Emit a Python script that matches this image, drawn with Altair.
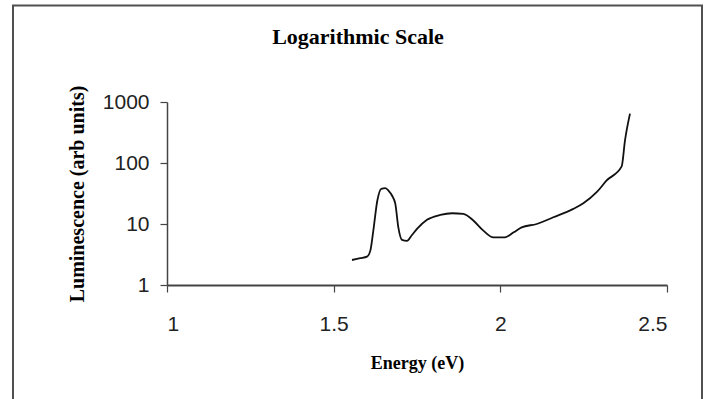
import altair as alt
import pandas as pd

# Data
energy = [1.555, 1.580, 1.600, 1.610, 1.619, 1.631, 1.643, 1.655, 1.665, 1.675,
          1.685, 1.694, 1.705, 1.720, 1.735, 1.750, 1.780, 1.820, 1.855, 1.889,
          1.919, 1.949, 1.979, 2.014, 2.040, 2.064, 2.109, 2.159, 2.219, 2.249,
          2.289, 2.319, 2.364, 2.374, 2.389]
lum = [2.57, 2.75, 2.92, 3.66, 7.8, 24.3, 37.8, 38.6, 35.0, 29.3,
       21.4, 8.8, 5.5, 5.3, 6.6, 8.3, 11.7, 14.1, 15.0, 14.7,
       11.4, 7.8, 6.05, 6.05, 7.3, 8.8, 10.0, 12.9, 17.7, 21.9,
       33.2, 51.7, 87.8, 235, 645]

x_ticks = [1, 1.5, 2, 2.5]
y_ticks = [1, 10, 100, 1000]
y_title = ["Luminescence (arb units)"]
main_title = ["Logarithmic Scale"]

df = pd.DataFrame({"Energy": energy, "Lum": lum})

serif = "Liberation Serif"
sans = "Liberation Sans"

line = alt.Chart(df).mark_line(color="#111111", strokeWidth=1.8, interpolate="monotone").encode(
    x=alt.X("Energy:Q",
            scale=alt.Scale(domain=[1, 2.5], nice=False, zero=False),
            axis=alt.Axis(values=x_ticks, format="~g", title="Energy (eV)",
                          grid=False, tickSize=7, labelPadding=21, titlePadding=20,
                          labelFont=sans, labelFontSize=21, labelColor="#222222",
                          titleFont=serif, titleFontSize=18, titleFontWeight="bold",
                          titleColor="#000000",
                          domainColor="#444444", domainWidth=1.8,
                          tickColor="#444444", tickWidth=1.2)),
    y=alt.Y("Lum:Q",
            scale=alt.Scale(type="log", domain=[1, 1000], nice=False),
            axis=alt.Axis(values=y_ticks, format="d", title="",
                          grid=False, tickSize=7, labelPadding=11,
                          labelFont=sans, labelFontSize=21, labelColor="#222222",
                          domainColor="#444444", domainWidth=1.5,
                          tickColor="#444444", tickWidth=1.2)),
)

ytitle = alt.Chart(pd.DataFrame({"t": y_title})).mark_text(
    angle=270, align="center", baseline="alphabetic", font=serif, fontSize=20,
    fontWeight="bold", color="#000000"
).encode(text="t:N", x=alt.value(-83), y=alt.value(92))

ttitle = alt.Chart(pd.DataFrame({"t": main_title})).mark_text(
    align="center", baseline="alphabetic", font=serif, fontSize=22,
    fontWeight="bold", color="#000000"
).encode(text="t:N", x=alt.value(191), y=alt.value(-58.5))

frame_df = pd.DataFrame({"k": [0]})
frame = alt.Chart(frame_df).mark_rect(fill="transparent", stroke="#505050", strokeWidth=2).encode(
    x=alt.value(-154), x2=alt.value(535), y=alt.value(-96.5), y2=alt.value(310)
)

chart = alt.layer(frame, ttitle, ytitle, line).properties(
    width=500, height=183,
    autosize=alt.AutoSizeParams(type="none"),
    padding={"left": 167, "top": 102, "right": 41, "bottom": 114},
    background="white",
).configure_view(strokeWidth=0)

chart.save("out.html", embed_options={"renderer": "svg", "actions": False})
